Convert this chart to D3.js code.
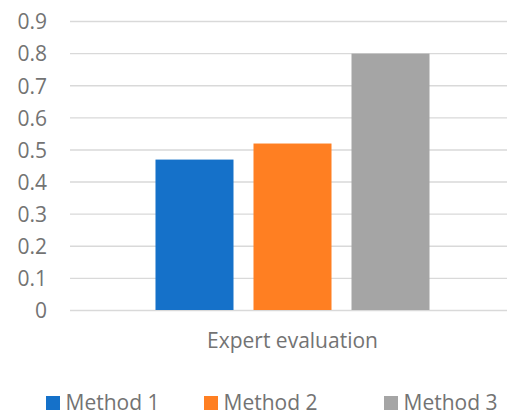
<!DOCTYPE html>
<html>
<head>
<meta charset="utf-8">
<script src="https://cdn.jsdelivr.net/npm/d3@7"></script>
<style>
  html, body { margin: 0; padding: 0; background: #fff; }
  svg { display: block; }
  text { font-family: "Open Sans", sans-serif; fill: #737373; }
</style>
</head>
<body>
<svg id="chart" width="507" height="412"></svg>
<script>
const categories = ["Expert evaluation"];
const seriesNames = ["Method 1", "Method 2", "Method 3"];
const method1 = [0.47];
const method2 = [0.52];
const method3 = [0.80];
const yTicks = [0, 0.1, 0.2, 0.3, 0.4, 0.5, 0.6, 0.7, 0.8, 0.9];
const colors = ["#1571c9", "#ff7f22", "#a5a5a5"];

const seriesValues = [method1, method2, method3];
const svg = d3.select("#chart");
const FS = "21px";

const plot = { left: 70, right: 515, top: 21.5, bottom: 310.5 };

const y = d3.scaleLinear().domain([0, 0.9]).range([plot.bottom, plot.top]);
const x0 = d3.scaleBand().domain(categories).range([plot.left, plot.right])
  .paddingInner(0).paddingOuter(0.312);
const x1 = d3.scaleBand().domain(seriesNames).range([0, x0.bandwidth()])
  .paddingInner(20 / 98).paddingOuter(0);

// gridlines
svg.append("g").selectAll("line").data(yTicks).join("line")
  .attr("x1", plot.left).attr("x2", 507)
  .attr("y1", d => y(d)).attr("y2", d => y(d))
  .attr("stroke", "#d9d9d9").attr("stroke-width", 1.4);

// y axis labels
const yAxis = d3.axisLeft(y).tickValues(yTicks).tickSize(0).tickPadding(0)
  .tickFormat(d => d === 0 ? "0" : d3.format(".1f")(d));
const gy = svg.append("g").attr("transform", "translate(47,0)").call(yAxis);
gy.select(".domain").remove();
gy.selectAll("text").style("font-size", FS).style("font-family", "'Open Sans', sans-serif")
  .attr("fill", "#737373").attr("dy", "0.35em");

// bars
categories.forEach((cat, ci) => {
  const g = svg.append("g").attr("transform", `translate(${x0(cat)},0)`);
  g.selectAll("rect").data(seriesNames.map((s, si) => ({ s, v: seriesValues[si][ci], c: colors[si] })))
    .join("rect")
    .attr("x", d => x1(d.s))
    .attr("width", x1.bandwidth())
    .attr("y", d => y(d.v))
    .attr("height", d => y(0) - y(d.v) - 0.5)
    .attr("fill", d => d.c);
});

// x axis category labels
const xAxis = d3.axisBottom(x0).tickSize(0).tickPadding(0);
const gx = svg.append("g").attr("transform", "translate(0,348)").call(xAxis);
gx.select(".domain").remove();
gx.selectAll("text").style("font-size", FS).style("font-family", "'Open Sans', sans-serif")
  .attr("fill", "#737373").attr("dy", "0").attr("y", 0);

// legend
const legendX = [46, 204, 384];
const lg = svg.append("g");
seriesNames.forEach((s, i) => {
  lg.append("rect").attr("x", legendX[i]).attr("y", 396).attr("width", 14).attr("height", 14)
    .attr("fill", colors[i]);
  lg.append("text").attr("x", legendX[i] + 19.5).attr("y", 409.5)
    .style("font-size", FS).text(s);
});
</script>
</body>
</html>
